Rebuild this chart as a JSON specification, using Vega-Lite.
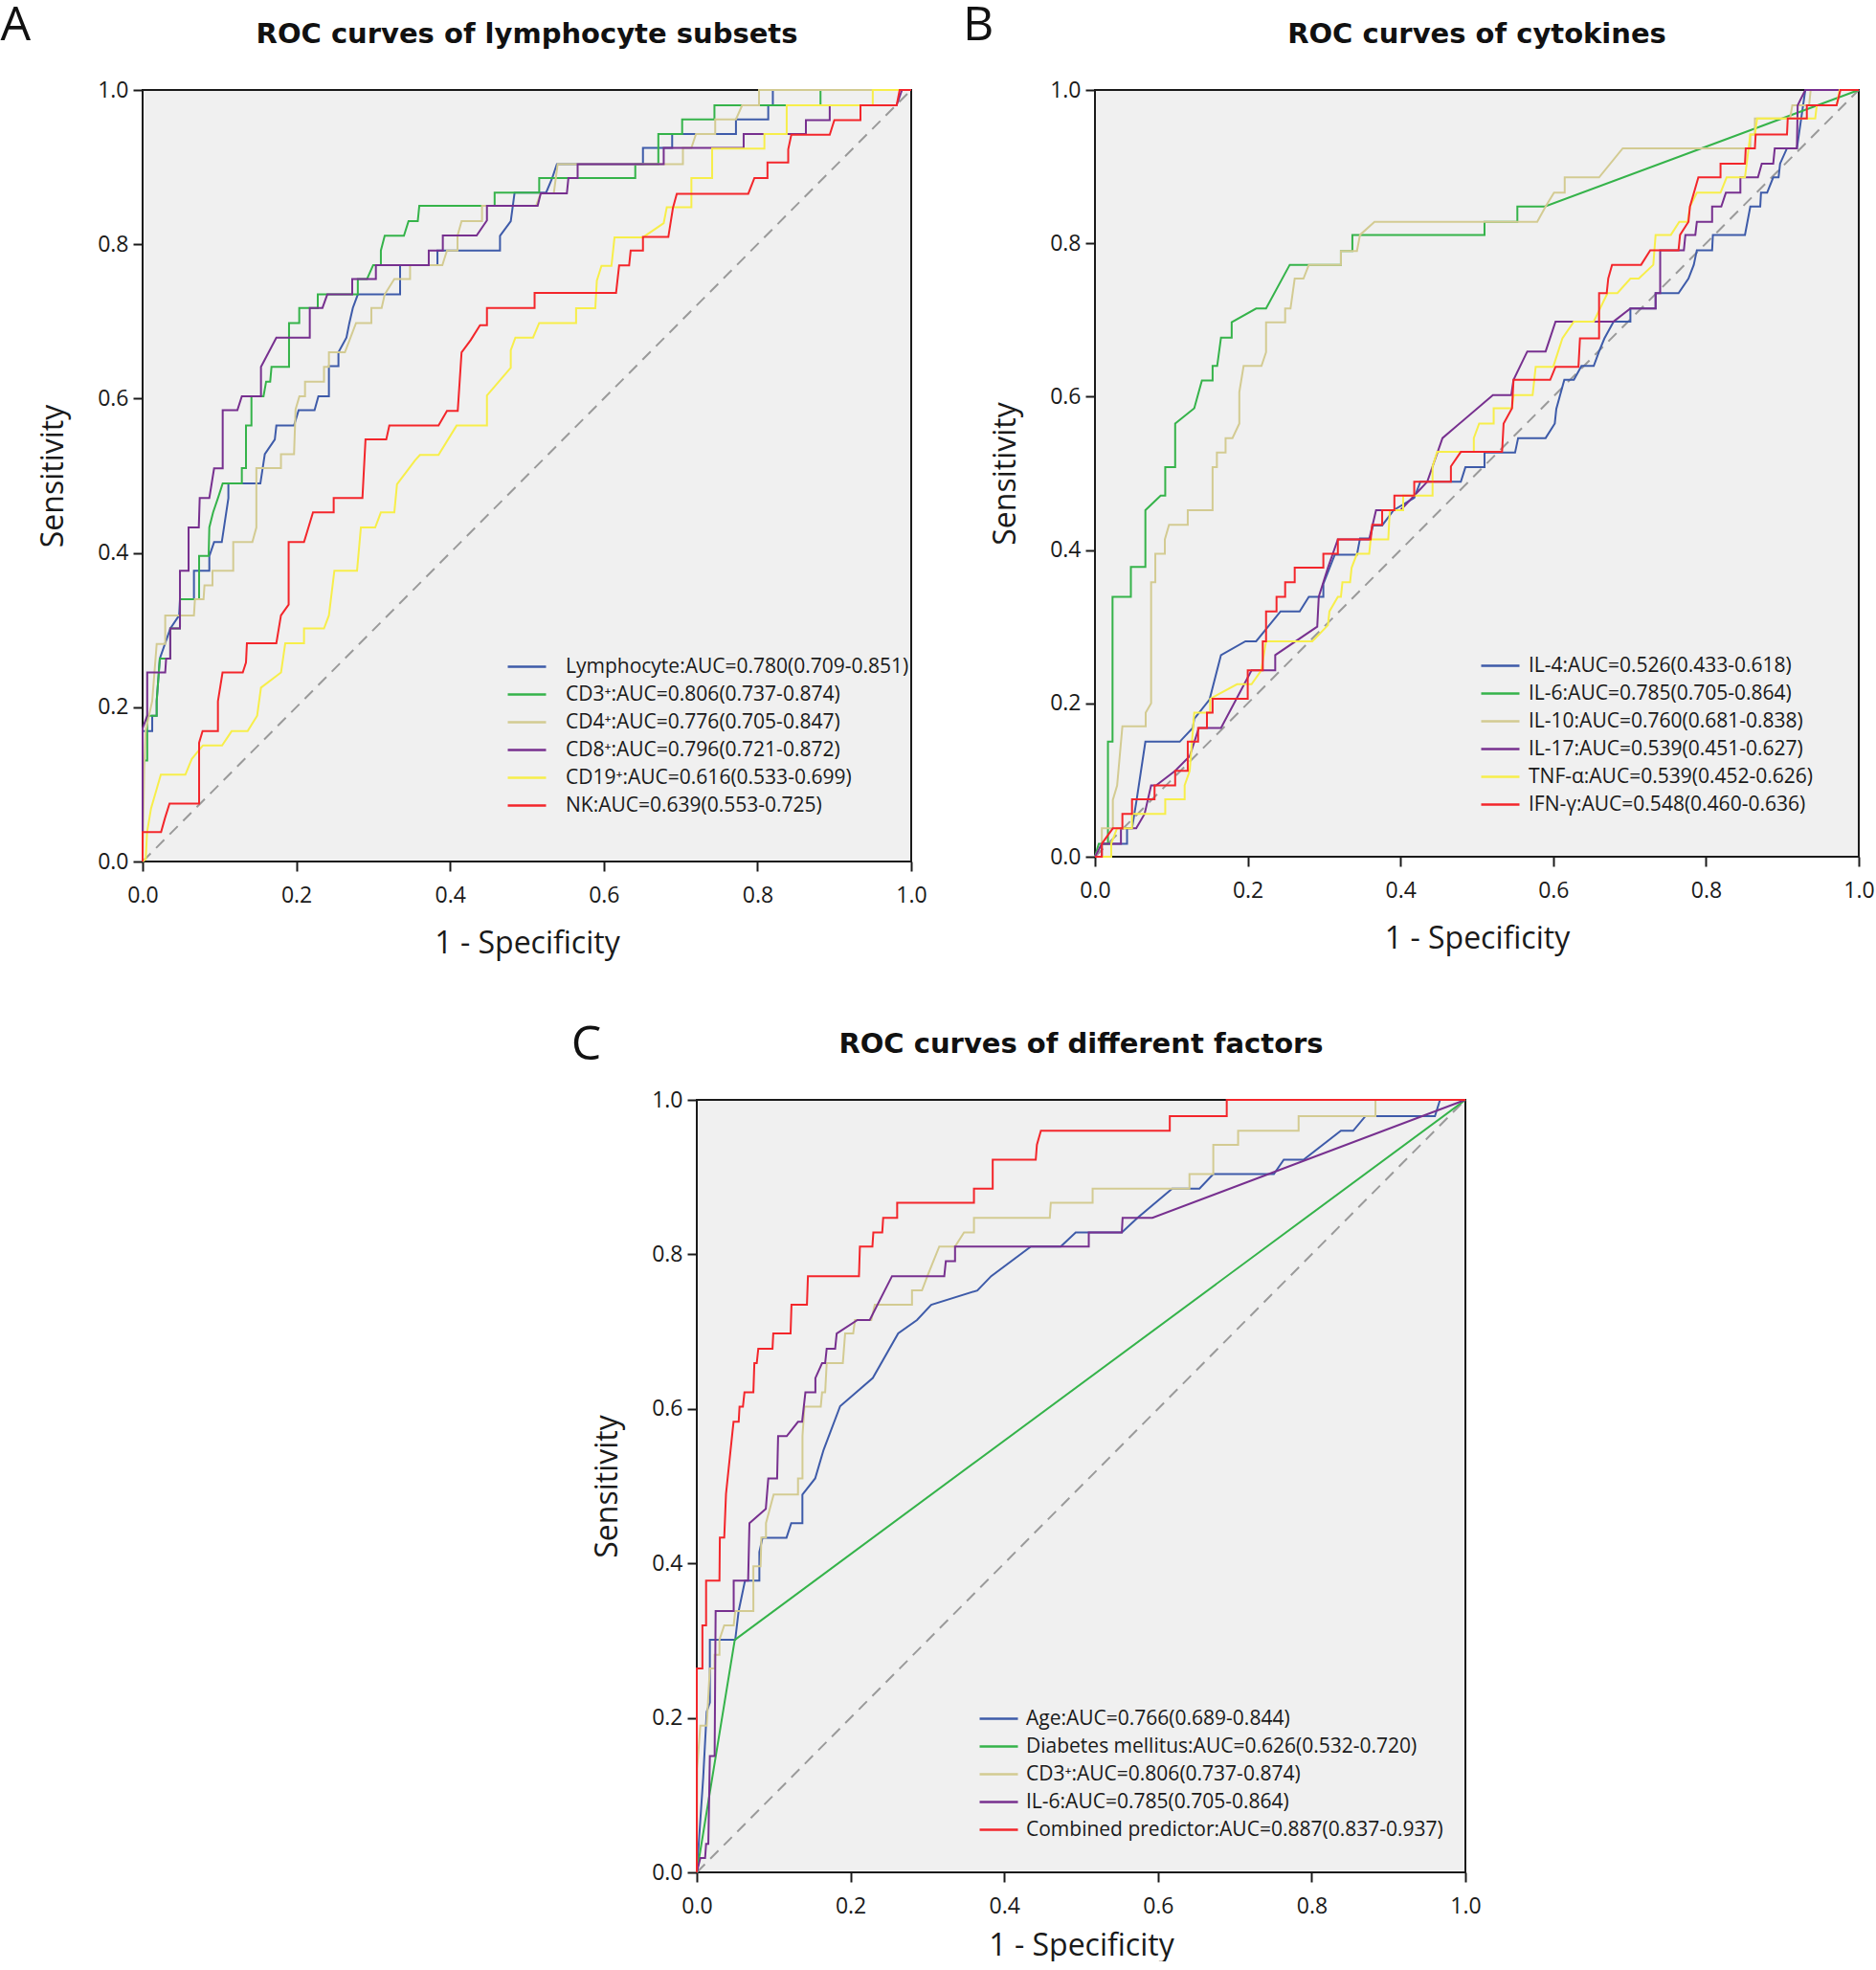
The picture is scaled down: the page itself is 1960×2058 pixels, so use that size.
{
"$schema": "https://vega.github.io/schema/vega-lite/v6.json",
"background": "white",
"padding": {"top": 2, "left": 0, "right": 0, "bottom": 0},
"config": {
"font": "Open Sans",
"view": {"fill": "#F0F0F0", "stroke": "#1a1a1a", "strokeWidth": 2},
"axis": {"domain": false, "grid": false, "tickColor": "#1a1a1a", "tickWidth": 2, "tickSize": 10, "labelFont": "Open Sans", "labelFontSize": 23, "labelColor": "#1a1a1a", "titleFont": "Open Sans", "titleFontSize": 32, "titleFontWeight": "normal", "titleColor": "#1a1a1a", "labelFlush": false, "labelOverlap": false},
"axisX": {"labelPadding": 14, "titlePadding": 23},
"axisY": {"labelPadding": 5, "titlePadding": 29},
"title": {"font": "DejaVu Sans", "fontSize": 29, "fontWeight": "bold", "color": "#111111", "offset": 32},
"legend": {"orient": "none", "padding": 0, "symbolType": "M-2,0H2", "symbolSize": 400, "symbolStrokeWidth": 2.5, "labelFont": "Open Sans", "labelFontSize": 21, "labelColor": "#1a1a1a", "labelLimit": 0, "rowPadding": 7}
},
"datasets": {
"A": [
{"k":"L","x":0,"y":0},{"k":"L","x":0,"y":0.169},{"k":"L","x":0.0125,"y":0.169},{"k":"L","x":0.0125,"y":0.189},{"k":"L","x":0.0183,"y":0.189},{"k":"L","x":0.0183,"y":0.208},{"k":"L","x":0.0224,"y":0.263},{"k":"L","x":0.036,"y":0.302},{"k":"L","x":0.0475,"y":0.319},{"k":"L","x":0.0486,"y":0.34},{"k":"L","x":0.0668,"y":0.34},{"k":"L","x":0.0668,"y":0.377},{"k":"L","x":0.0868,"y":0.377},{"k":"L","x":0.0868,"y":0.396},{"k":"L","x":0.093,"y":0.414},{"k":"L","x":0.103,"y":0.414},{"k":"L","x":0.1116,"y":0.471},{"k":"L","x":0.1116,"y":0.49},{"k":"L","x":0.1532,"y":0.49},{"k":"L","x":0.159,"y":0.528},{"k":"L","x":0.172,"y":0.547},{"k":"L","x":0.174,"y":0.565},{"k":"L","x":0.197,"y":0.565},{"k":"L","x":0.203,"y":0.585},{"k":"L","x":0.2237,"y":0.585},{"k":"L","x":0.2287,"y":0.603},{"k":"L","x":0.2424,"y":0.603},{"k":"L","x":0.2424,"y":0.642},{"k":"L","x":0.2548,"y":0.642},{"k":"L","x":0.2548,"y":0.66},{"k":"L","x":0.2652,"y":0.679},{"k":"L","x":0.269,"y":0.698},{"k":"L","x":0.2735,"y":0.7175},{"k":"L","x":0.28,"y":0.735},{"k":"L","x":0.335,"y":0.735},{"k":"L","x":0.335,"y":0.773},{"k":"L","x":0.3836,"y":0.773},{"k":"L","x":0.3836,"y":0.792},{"k":"L","x":0.465,"y":0.792},{"k":"L","x":0.465,"y":0.811},{"k":"L","x":0.479,"y":0.83},{"k":"L","x":0.484,"y":0.867},{"k":"L","x":0.525,"y":0.867},{"k":"L","x":0.533,"y":0.886},{"k":"L","x":0.539,"y":0.904},{"k":"L","x":0.651,"y":0.904},{"k":"L","x":0.651,"y":0.925},{"k":"L","x":0.689,"y":0.925},{"k":"L","x":0.689,"y":0.943},{"k":"L","x":0.772,"y":0.943},{"k":"L","x":0.772,"y":0.962},{"k":"L","x":0.814,"y":0.962},{"k":"L","x":0.814,"y":0.98},{"k":"L","x":0.82,"y":0.98},{"k":"L","x":0.82,"y":1},{"k":"L","x":1,"y":1},
{"k":"CD3","x":0,"y":0},{"k":"CD3","x":0,"y":0.131},{"k":"CD3","x":0.006,"y":0.131},{"k":"CD3","x":0.006,"y":0.189},{"k":"CD3","x":0.0183,"y":0.189},{"k":"CD3","x":0.0183,"y":0.208},{"k":"CD3","x":0.0224,"y":0.263},{"k":"CD3","x":0.036,"y":0.263},{"k":"CD3","x":0.036,"y":0.302},{"k":"CD3","x":0.0486,"y":0.302},{"k":"CD3","x":0.0486,"y":0.34},{"k":"CD3","x":0.0735,"y":0.34},{"k":"CD3","x":0.0735,"y":0.396},{"k":"CD3","x":0.0859,"y":0.396},{"k":"CD3","x":0.0868,"y":0.433},{"k":"CD3","x":0.0917,"y":0.4525},{"k":"CD3","x":0.098,"y":0.471},{"k":"CD3","x":0.1042,"y":0.49},{"k":"CD3","x":0.1291,"y":0.49},{"k":"CD3","x":0.1291,"y":0.51},{"k":"CD3","x":0.1345,"y":0.51},{"k":"CD3","x":0.1345,"y":0.565},{"k":"CD3","x":0.1416,"y":0.565},{"k":"CD3","x":0.1416,"y":0.603},{"k":"CD3","x":0.1573,"y":0.603},{"k":"CD3","x":0.1607,"y":0.622},{"k":"CD3","x":0.166,"y":0.622},{"k":"CD3","x":0.1677,"y":0.641},{"k":"CD3","x":0.1905,"y":0.641},{"k":"CD3","x":0.1905,"y":0.698},{"k":"CD3","x":0.2038,"y":0.698},{"k":"CD3","x":0.2038,"y":0.7175},{"k":"CD3","x":0.2279,"y":0.7175},{"k":"CD3","x":0.2279,"y":0.735},{"k":"CD3","x":0.28,"y":0.735},{"k":"CD3","x":0.28,"y":0.755},{"k":"CD3","x":0.292,"y":0.755},{"k":"CD3","x":0.3,"y":0.773},{"k":"CD3","x":0.31,"y":0.773},{"k":"CD3","x":0.31,"y":0.792},{"k":"CD3","x":0.315,"y":0.811},{"k":"CD3","x":0.34,"y":0.811},{"k":"CD3","x":0.346,"y":0.83},{"k":"CD3","x":0.358,"y":0.83},{"k":"CD3","x":0.36,"y":0.85},{"k":"CD3","x":0.458,"y":0.85},{"k":"CD3","x":0.458,"y":0.867},{"k":"CD3","x":0.516,"y":0.867},{"k":"CD3","x":0.516,"y":0.886},{"k":"CD3","x":0.641,"y":0.886},{"k":"CD3","x":0.641,"y":0.904},{"k":"CD3","x":0.671,"y":0.904},{"k":"CD3","x":0.671,"y":0.943},{"k":"CD3","x":0.702,"y":0.943},{"k":"CD3","x":0.702,"y":0.962},{"k":"CD3","x":0.744,"y":0.962},{"k":"CD3","x":0.744,"y":0.98},{"k":"CD3","x":0.882,"y":0.98},{"k":"CD3","x":0.882,"y":1},{"k":"CD3","x":1,"y":1},
{"k":"CD4","x":0,"y":0},{"k":"CD4","x":0.002,"y":0.12},{"k":"CD4","x":0.004,"y":0.17},{"k":"CD4","x":0.0125,"y":0.208},{"k":"CD4","x":0.0183,"y":0.282},{"k":"CD4","x":0.0294,"y":0.282},{"k":"CD4","x":0.0294,"y":0.319},{"k":"CD4","x":0.0668,"y":0.319},{"k":"CD4","x":0.0681,"y":0.34},{"k":"CD4","x":0.0793,"y":0.34},{"k":"CD4","x":0.0805,"y":0.358},{"k":"CD4","x":0.0909,"y":0.358},{"k":"CD4","x":0.0909,"y":0.377},{"k":"CD4","x":0.1179,"y":0.377},{"k":"CD4","x":0.1179,"y":0.414},{"k":"CD4","x":0.1428,"y":0.414},{"k":"CD4","x":0.148,"y":0.433},{"k":"CD4","x":0.148,"y":0.51},{"k":"CD4","x":0.18,"y":0.51},{"k":"CD4","x":0.18,"y":0.528},{"k":"CD4","x":0.197,"y":0.528},{"k":"CD4","x":0.199,"y":0.586},{"k":"CD4","x":0.204,"y":0.603},{"k":"CD4","x":0.2113,"y":0.603},{"k":"CD4","x":0.2113,"y":0.622},{"k":"CD4","x":0.236,"y":0.622},{"k":"CD4","x":0.236,"y":0.641},{"k":"CD4","x":0.2424,"y":0.641},{"k":"CD4","x":0.2424,"y":0.66},{"k":"CD4","x":0.2632,"y":0.66},{"k":"CD4","x":0.2777,"y":0.698},{"k":"CD4","x":0.2976,"y":0.698},{"k":"CD4","x":0.2976,"y":0.7175},{"k":"CD4","x":0.311,"y":0.7175},{"k":"CD4","x":0.315,"y":0.735},{"k":"CD4","x":0.3275,"y":0.755},{"k":"CD4","x":0.348,"y":0.755},{"k":"CD4","x":0.348,"y":0.773},{"k":"CD4","x":0.39,"y":0.773},{"k":"CD4","x":0.396,"y":0.792},{"k":"CD4","x":0.4097,"y":0.792},{"k":"CD4","x":0.4097,"y":0.811},{"k":"CD4","x":0.415,"y":0.83},{"k":"CD4","x":0.4416,"y":0.83},{"k":"CD4","x":0.4416,"y":0.85},{"k":"CD4","x":0.512,"y":0.85},{"k":"CD4","x":0.518,"y":0.866},{"k":"CD4","x":0.535,"y":0.866},{"k":"CD4","x":0.54,"y":0.904},{"k":"CD4","x":0.703,"y":0.904},{"k":"CD4","x":0.703,"y":0.925},{"k":"CD4","x":0.714,"y":0.925},{"k":"CD4","x":0.72,"y":0.943},{"k":"CD4","x":0.745,"y":0.943},{"k":"CD4","x":0.745,"y":0.962},{"k":"CD4","x":0.772,"y":0.962},{"k":"CD4","x":0.78,"y":0.98},{"k":"CD4","x":0.802,"y":0.98},{"k":"CD4","x":0.802,"y":1},{"k":"CD4","x":1,"y":1},
{"k":"CD8","x":0,"y":0},{"k":"CD8","x":0,"y":0.1725},{"k":"CD8","x":0.006,"y":0.189},{"k":"CD8","x":0.006,"y":0.245},{"k":"CD8","x":0.0294,"y":0.245},{"k":"CD8","x":0.0306,"y":0.263},{"k":"CD8","x":0.036,"y":0.263},{"k":"CD8","x":0.036,"y":0.302},{"k":"CD8","x":0.0486,"y":0.302},{"k":"CD8","x":0.0486,"y":0.377},{"k":"CD8","x":0.0598,"y":0.377},{"k":"CD8","x":0.0598,"y":0.433},{"k":"CD8","x":0.0731,"y":0.433},{"k":"CD8","x":0.0743,"y":0.471},{"k":"CD8","x":0.0868,"y":0.471},{"k":"CD8","x":0.093,"y":0.5095},{"k":"CD8","x":0.1042,"y":0.5095},{"k":"CD8","x":0.1042,"y":0.585},{"k":"CD8","x":0.1233,"y":0.585},{"k":"CD8","x":0.1291,"y":0.603},{"k":"CD8","x":0.154,"y":0.603},{"k":"CD8","x":0.154,"y":0.641},{"k":"CD8","x":0.174,"y":0.679},{"k":"CD8","x":0.2175,"y":0.679},{"k":"CD8","x":0.2175,"y":0.7175},{"k":"CD8","x":0.234,"y":0.7175},{"k":"CD8","x":0.2403,"y":0.735},{"k":"CD8","x":0.2727,"y":0.735},{"k":"CD8","x":0.2727,"y":0.755},{"k":"CD8","x":0.3035,"y":0.755},{"k":"CD8","x":0.3035,"y":0.773},{"k":"CD8","x":0.3723,"y":0.773},{"k":"CD8","x":0.3723,"y":0.792},{"k":"CD8","x":0.3906,"y":0.792},{"k":"CD8","x":0.3906,"y":0.8114},{"k":"CD8","x":0.4346,"y":0.8114},{"k":"CD8","x":0.448,"y":0.831},{"k":"CD8","x":0.448,"y":0.85},{"k":"CD8","x":0.514,"y":0.85},{"k":"CD8","x":0.518,"y":0.866},{"k":"CD8","x":0.552,"y":0.866},{"k":"CD8","x":0.554,"y":0.886},{"k":"CD8","x":0.566,"y":0.886},{"k":"CD8","x":0.566,"y":0.904},{"k":"CD8","x":0.678,"y":0.904},{"k":"CD8","x":0.678,"y":0.925},{"k":"CD8","x":0.782,"y":0.925},{"k":"CD8","x":0.782,"y":0.943},{"k":"CD8","x":0.863,"y":0.943},{"k":"CD8","x":0.863,"y":0.961},{"k":"CD8","x":0.894,"y":0.961},{"k":"CD8","x":0.894,"y":0.98},{"k":"CD8","x":0.981,"y":0.98},{"k":"CD8","x":0.988,"y":1},{"k":"CD8","x":1,"y":1},
{"k":"CD19","x":0,"y":0},{"k":"CD19","x":0.004,"y":0.003},{"k":"CD19","x":0.0058,"y":0.038},{"k":"CD19","x":0.011,"y":0.069},{"k":"CD19","x":0.0183,"y":0.094},{"k":"CD19","x":0.0237,"y":0.1125},{"k":"CD19","x":0.0556,"y":0.1125},{"k":"CD19","x":0.064,"y":0.133},{"k":"CD19","x":0.0785,"y":0.1505},{"k":"CD19","x":0.1034,"y":0.1505},{"k":"CD19","x":0.1158,"y":0.1689},{"k":"CD19","x":0.1366,"y":0.1689},{"k":"CD19","x":0.149,"y":0.189},{"k":"CD19","x":0.154,"y":0.2254},{"k":"CD19","x":0.1801,"y":0.245},{"k":"CD19","x":0.1856,"y":0.283},{"k":"CD19","x":0.21,"y":0.283},{"k":"CD19","x":0.21,"y":0.302},{"k":"CD19","x":0.236,"y":0.302},{"k":"CD19","x":0.2424,"y":0.319},{"k":"CD19","x":0.2495,"y":0.377},{"k":"CD19","x":0.279,"y":0.377},{"k":"CD19","x":0.284,"y":0.433},{"k":"CD19","x":0.3026,"y":0.433},{"k":"CD19","x":0.31,"y":0.4525},{"k":"CD19","x":0.3275,"y":0.4525},{"k":"CD19","x":0.331,"y":0.489},{"k":"CD19","x":0.3545,"y":0.52},{"k":"CD19","x":0.3608,"y":0.527},{"k":"CD19","x":0.385,"y":0.527},{"k":"CD19","x":0.4085,"y":0.565},{"k":"CD19","x":0.448,"y":0.565},{"k":"CD19","x":0.448,"y":0.604},{"k":"CD19","x":0.479,"y":0.64},{"k":"CD19","x":0.479,"y":0.6625},{"k":"CD19","x":0.485,"y":0.679},{"k":"CD19","x":0.508,"y":0.679},{"k":"CD19","x":0.516,"y":0.698},{"k":"CD19","x":0.564,"y":0.698},{"k":"CD19","x":0.564,"y":0.717},{"k":"CD19","x":0.589,"y":0.717},{"k":"CD19","x":0.591,"y":0.753},{"k":"CD19","x":0.597,"y":0.772},{"k":"CD19","x":0.61,"y":0.772},{"k":"CD19","x":0.614,"y":0.809},{"k":"CD19","x":0.651,"y":0.809},{"k":"CD19","x":0.678,"y":0.8275},{"k":"CD19","x":0.682,"y":0.848},{"k":"CD19","x":0.714,"y":0.848},{"k":"CD19","x":0.714,"y":0.886},{"k":"CD19","x":0.741,"y":0.886},{"k":"CD19","x":0.741,"y":0.924},{"k":"CD19","x":0.809,"y":0.924},{"k":"CD19","x":0.809,"y":0.943},{"k":"CD19","x":0.838,"y":0.943},{"k":"CD19","x":0.838,"y":0.98},{"k":"CD19","x":0.95,"y":0.98},{"k":"CD19","x":0.95,"y":1},{"k":"CD19","x":1,"y":1},
{"k":"NK","x":0,"y":0},{"k":"NK","x":0,"y":0.038},{"k":"NK","x":0.024,"y":0.038},{"k":"NK","x":0.029,"y":0.056},{"k":"NK","x":0.035,"y":0.075},{"k":"NK","x":0.0735,"y":0.075},{"k":"NK","x":0.0735,"y":0.154},{"k":"NK","x":0.078,"y":0.169},{"k":"NK","x":0.098,"y":0.169},{"k":"NK","x":0.098,"y":0.2076},{"k":"NK","x":0.104,"y":0.245},{"k":"NK","x":0.1303,"y":0.245},{"k":"NK","x":0.1345,"y":0.258},{"k":"NK","x":0.1357,"y":0.283},{"k":"NK","x":0.174,"y":0.283},{"k":"NK","x":0.18,"y":0.319},{"k":"NK","x":0.19,"y":0.333},{"k":"NK","x":0.19,"y":0.414},{"k":"NK","x":0.21,"y":0.414},{"k":"NK","x":0.2217,"y":0.4525},{"k":"NK","x":0.2486,"y":0.4525},{"k":"NK","x":0.2486,"y":0.471},{"k":"NK","x":0.286,"y":0.471},{"k":"NK","x":0.29,"y":0.547},{"k":"NK","x":0.317,"y":0.547},{"k":"NK","x":0.321,"y":0.565},{"k":"NK","x":0.385,"y":0.565},{"k":"NK","x":0.396,"y":0.584},{"k":"NK","x":0.41,"y":0.584},{"k":"NK","x":0.415,"y":0.66},{"k":"NK","x":0.427,"y":0.676},{"k":"NK","x":0.439,"y":0.695},{"k":"NK","x":0.448,"y":0.695},{"k":"NK","x":0.448,"y":0.7175},{"k":"NK","x":0.51,"y":0.7175},{"k":"NK","x":0.51,"y":0.737},{"k":"NK","x":0.616,"y":0.737},{"k":"NK","x":0.62,"y":0.7725},{"k":"NK","x":0.633,"y":0.7725},{"k":"NK","x":0.635,"y":0.792},{"k":"NK","x":0.651,"y":0.792},{"k":"NK","x":0.651,"y":0.8095},{"k":"NK","x":0.684,"y":0.8095},{"k":"NK","x":0.69,"y":0.847},{"k":"NK","x":0.695,"y":0.8655},{"k":"NK","x":0.788,"y":0.8655},{"k":"NK","x":0.796,"y":0.886},{"k":"NK","x":0.813,"y":0.886},{"k":"NK","x":0.813,"y":0.906},{"k":"NK","x":0.84,"y":0.906},{"k":"NK","x":0.84,"y":0.923},{"k":"NK","x":0.844,"y":0.942},{"k":"NK","x":0.894,"y":0.942},{"k":"NK","x":0.9,"y":0.961},{"k":"NK","x":0.934,"y":0.961},{"k":"NK","x":0.934,"y":0.98},{"k":"NK","x":0.981,"y":0.98},{"k":"NK","x":0.985,"y":1},{"k":"NK","x":1,"y":1}
],
"B": [
{"k":"IL4","x":0,"y":0},{"k":"IL4","x":0.009,"y":0},{"k":"IL4","x":0.009,"y":0.017},{"k":"IL4","x":0.042,"y":0.017},{"k":"IL4","x":0.042,"y":0.037},{"k":"IL4","x":0.0485,"y":0.037},{"k":"IL4","x":0.0547,"y":0.075},{"k":"IL4","x":0.066,"y":0.15},{"k":"IL4","x":0.111,"y":0.15},{"k":"IL4","x":0.128,"y":0.168},{"k":"IL4","x":0.13,"y":0.18},{"k":"IL4","x":0.15,"y":0.205},{"k":"IL4","x":0.165,"y":0.263},{"k":"IL4","x":0.197,"y":0.281},{"k":"IL4","x":0.211,"y":0.281},{"k":"IL4","x":0.243,"y":0.32},{"k":"IL4","x":0.268,"y":0.32},{"k":"IL4","x":0.28,"y":0.339},{"k":"IL4","x":0.299,"y":0.339},{"k":"IL4","x":0.299,"y":0.356},{"k":"IL4","x":0.314,"y":0.394},{"k":"IL4","x":0.343,"y":0.394},{"k":"IL4","x":0.347,"y":0.415},{"k":"IL4","x":0.36,"y":0.415},{"k":"IL4","x":0.364,"y":0.432},{"k":"IL4","x":0.376,"y":0.432},{"k":"IL4","x":0.391,"y":0.452},{"k":"IL4","x":0.418,"y":0.468},{"k":"IL4","x":0.426,"y":0.489},{"k":"IL4","x":0.479,"y":0.489},{"k":"IL4","x":0.485,"y":0.508},{"k":"IL4","x":0.51,"y":0.508},{"k":"IL4","x":0.51,"y":0.527},{"k":"IL4","x":0.55,"y":0.527},{"k":"IL4","x":0.554,"y":0.546},{"k":"IL4","x":0.59,"y":0.546},{"k":"IL4","x":0.602,"y":0.565},{"k":"IL4","x":0.604,"y":0.584},{"k":"IL4","x":0.6145,"y":0.622},{"k":"IL4","x":0.627,"y":0.622},{"k":"IL4","x":0.637,"y":0.64},{"k":"IL4","x":0.653,"y":0.64},{"k":"IL4","x":0.66,"y":0.659},{"k":"IL4","x":0.667,"y":0.676},{"k":"IL4","x":0.679,"y":0.698},{"k":"IL4","x":0.701,"y":0.698},{"k":"IL4","x":0.701,"y":0.715},{"k":"IL4","x":0.734,"y":0.715},{"k":"IL4","x":0.734,"y":0.735},{"k":"IL4","x":0.764,"y":0.735},{"k":"IL4","x":0.777,"y":0.754},{"k":"IL4","x":0.784,"y":0.772},{"k":"IL4","x":0.788,"y":0.791},{"k":"IL4","x":0.808,"y":0.791},{"k":"IL4","x":0.809,"y":0.811},{"k":"IL4","x":0.851,"y":0.811},{"k":"IL4","x":0.858,"y":0.848},{"k":"IL4","x":0.871,"y":0.848},{"k":"IL4","x":0.872,"y":0.866},{"k":"IL4","x":0.88,"y":0.866},{"k":"IL4","x":0.888,"y":0.886},{"k":"IL4","x":0.895,"y":0.886},{"k":"IL4","x":0.897,"y":0.904},{"k":"IL4","x":0.906,"y":0.924},{"k":"IL4","x":0.919,"y":0.924},{"k":"IL4","x":0.93,"y":1},{"k":"IL4","x":1,"y":1},
{"k":"IL6","x":0,"y":0},{"k":"IL6","x":0.005,"y":0.017},{"k":"IL6","x":0.017,"y":0.017},{"k":"IL6","x":0.017,"y":0.15},{"k":"IL6","x":0.023,"y":0.15},{"k":"IL6","x":0.023,"y":0.339},{"k":"IL6","x":0.047,"y":0.339},{"k":"IL6","x":0.047,"y":0.378},{"k":"IL6","x":0.066,"y":0.378},{"k":"IL6","x":0.066,"y":0.452},{"k":"IL6","x":0.086,"y":0.471},{"k":"IL6","x":0.092,"y":0.471},{"k":"IL6","x":0.092,"y":0.508},{"k":"IL6","x":0.105,"y":0.508},{"k":"IL6","x":0.105,"y":0.565},{"k":"IL6","x":0.13,"y":0.585},{"k":"IL6","x":0.14,"y":0.621},{"k":"IL6","x":0.154,"y":0.621},{"k":"IL6","x":0.154,"y":0.64},{"k":"IL6","x":0.16,"y":0.64},{"k":"IL6","x":0.165,"y":0.677},{"k":"IL6","x":0.179,"y":0.677},{"k":"IL6","x":0.179,"y":0.697},{"k":"IL6","x":0.211,"y":0.715},{"k":"IL6","x":0.224,"y":0.715},{"k":"IL6","x":0.255,"y":0.772},{"k":"IL6","x":0.322,"y":0.772},{"k":"IL6","x":0.322,"y":0.79},{"k":"IL6","x":0.337,"y":0.79},{"k":"IL6","x":0.337,"y":0.811},{"k":"IL6","x":0.51,"y":0.811},{"k":"IL6","x":0.51,"y":0.828},{"k":"IL6","x":0.553,"y":0.828},{"k":"IL6","x":0.553,"y":0.848},{"k":"IL6","x":0.589,"y":0.848},{"k":"IL6","x":1,"y":1},
{"k":"IL10","x":0,"y":0},{"k":"IL10","x":0.009,"y":0.017},{"k":"IL10","x":0.009,"y":0.037},{"k":"IL10","x":0.0234,"y":0.037},{"k":"IL10","x":0.0234,"y":0.074},{"k":"IL10","x":0.029,"y":0.093},{"k":"IL10","x":0.0359,"y":0.17},{"k":"IL10","x":0.0664,"y":0.17},{"k":"IL10","x":0.0664,"y":0.188},{"k":"IL10","x":0.0735,"y":0.2},{"k":"IL10","x":0.0735,"y":0.358},{"k":"IL10","x":0.079,"y":0.358},{"k":"IL10","x":0.079,"y":0.395},{"k":"IL10","x":0.0915,"y":0.395},{"k":"IL10","x":0.0915,"y":0.414},{"k":"IL10","x":0.097,"y":0.433},{"k":"IL10","x":0.1215,"y":0.433},{"k":"IL10","x":0.1215,"y":0.452},{"k":"IL10","x":0.154,"y":0.452},{"k":"IL10","x":0.154,"y":0.508},{"k":"IL10","x":0.1596,"y":0.508},{"k":"IL10","x":0.1596,"y":0.527},{"k":"IL10","x":0.171,"y":0.527},{"k":"IL10","x":0.171,"y":0.546},{"k":"IL10","x":0.18,"y":0.546},{"k":"IL10","x":0.189,"y":0.565},{"k":"IL10","x":0.189,"y":0.606},{"k":"IL10","x":0.1946,"y":0.64},{"k":"IL10","x":0.218,"y":0.64},{"k":"IL10","x":0.224,"y":0.658},{"k":"IL10","x":0.224,"y":0.697},{"k":"IL10","x":0.249,"y":0.697},{"k":"IL10","x":0.249,"y":0.715},{"k":"IL10","x":0.256,"y":0.715},{"k":"IL10","x":0.2615,"y":0.754},{"k":"IL10","x":0.273,"y":0.754},{"k":"IL10","x":0.28,"y":0.772},{"k":"IL10","x":0.322,"y":0.772},{"k":"IL10","x":0.322,"y":0.79},{"k":"IL10","x":0.343,"y":0.79},{"k":"IL10","x":0.347,"y":0.811},{"k":"IL10","x":0.366,"y":0.828},{"k":"IL10","x":0.579,"y":0.828},{"k":"IL10","x":0.59,"y":0.848},{"k":"IL10","x":0.601,"y":0.866},{"k":"IL10","x":0.615,"y":0.866},{"k":"IL10","x":0.615,"y":0.886},{"k":"IL10","x":0.66,"y":0.886},{"k":"IL10","x":0.691,"y":0.924},{"k":"IL10","x":0.858,"y":0.924},{"k":"IL10","x":0.858,"y":0.942},{"k":"IL10","x":0.864,"y":0.942},{"k":"IL10","x":0.864,"y":0.963},{"k":"IL10","x":0.91,"y":0.963},{"k":"IL10","x":0.913,"y":0.98},{"k":"IL10","x":0.935,"y":0.98},{"k":"IL10","x":0.937,"y":1},{"k":"IL10","x":1,"y":1},
{"k":"IL17","x":0,"y":0},{"k":"IL17","x":0.009,"y":0.017},{"k":"IL17","x":0.034,"y":0.017},{"k":"IL17","x":0.034,"y":0.037},{"k":"IL17","x":0.054,"y":0.037},{"k":"IL17","x":0.065,"y":0.056},{"k":"IL17","x":0.0735,"y":0.093},{"k":"IL17","x":0.08,"y":0.093},{"k":"IL17","x":0.105,"y":0.112},{"k":"IL17","x":0.124,"y":0.131},{"k":"IL17","x":0.136,"y":0.168},{"k":"IL17","x":0.165,"y":0.168},{"k":"IL17","x":0.205,"y":0.243},{"k":"IL17","x":0.236,"y":0.243},{"k":"IL17","x":0.236,"y":0.263},{"k":"IL17","x":0.291,"y":0.3},{"k":"IL17","x":0.293,"y":0.339},{"k":"IL17","x":0.305,"y":0.377},{"k":"IL17","x":0.318,"y":0.414},{"k":"IL17","x":0.359,"y":0.414},{"k":"IL17","x":0.368,"y":0.452},{"k":"IL17","x":0.4,"y":0.452},{"k":"IL17","x":0.435,"y":0.489},{"k":"IL17","x":0.455,"y":0.546},{"k":"IL17","x":0.521,"y":0.602},{"k":"IL17","x":0.545,"y":0.602},{"k":"IL17","x":0.548,"y":0.622},{"k":"IL17","x":0.566,"y":0.659},{"k":"IL17","x":0.59,"y":0.659},{"k":"IL17","x":0.603,"y":0.698},{"k":"IL17","x":0.679,"y":0.698},{"k":"IL17","x":0.701,"y":0.715},{"k":"IL17","x":0.734,"y":0.715},{"k":"IL17","x":0.734,"y":0.735},{"k":"IL17","x":0.74,"y":0.735},{"k":"IL17","x":0.74,"y":0.791},{"k":"IL17","x":0.771,"y":0.791},{"k":"IL17","x":0.773,"y":0.811},{"k":"IL17","x":0.786,"y":0.811},{"k":"IL17","x":0.788,"y":0.828},{"k":"IL17","x":0.808,"y":0.828},{"k":"IL17","x":0.808,"y":0.848},{"k":"IL17","x":0.82,"y":0.848},{"k":"IL17","x":0.826,"y":0.866},{"k":"IL17","x":0.845,"y":0.866},{"k":"IL17","x":0.845,"y":0.886},{"k":"IL17","x":0.868,"y":0.886},{"k":"IL17","x":0.873,"y":0.904},{"k":"IL17","x":0.888,"y":0.904},{"k":"IL17","x":0.89,"y":0.924},{"k":"IL17","x":0.919,"y":0.924},{"k":"IL17","x":0.92,"y":0.98},{"k":"IL17","x":0.93,"y":1},{"k":"IL17","x":1,"y":1},
{"k":"TNF","x":0,"y":0},{"k":"TNF","x":0.0213,"y":0},{"k":"TNF","x":0.0213,"y":0.017},{"k":"TNF","x":0.0288,"y":0.037},{"k":"TNF","x":0.0485,"y":0.037},{"k":"TNF","x":0.0485,"y":0.056},{"k":"TNF","x":0.092,"y":0.056},{"k":"TNF","x":0.092,"y":0.075},{"k":"TNF","x":0.1174,"y":0.075},{"k":"TNF","x":0.1174,"y":0.093},{"k":"TNF","x":0.124,"y":0.112},{"k":"TNF","x":0.13,"y":0.188},{"k":"TNF","x":0.1508,"y":0.188},{"k":"TNF","x":0.1508,"y":0.206},{"k":"TNF","x":0.186,"y":0.225},{"k":"TNF","x":0.205,"y":0.225},{"k":"TNF","x":0.2177,"y":0.243},{"k":"TNF","x":0.224,"y":0.281},{"k":"TNF","x":0.2845,"y":0.281},{"k":"TNF","x":0.305,"y":0.302},{"k":"TNF","x":0.307,"y":0.32},{"k":"TNF","x":0.318,"y":0.339},{"k":"TNF","x":0.322,"y":0.339},{"k":"TNF","x":0.324,"y":0.358},{"k":"TNF","x":0.334,"y":0.358},{"k":"TNF","x":0.336,"y":0.377},{"k":"TNF","x":0.343,"y":0.395},{"k":"TNF","x":0.359,"y":0.395},{"k":"TNF","x":0.361,"y":0.414},{"k":"TNF","x":0.384,"y":0.414},{"k":"TNF","x":0.386,"y":0.452},{"k":"TNF","x":0.4035,"y":0.452},{"k":"TNF","x":0.4035,"y":0.471},{"k":"TNF","x":0.442,"y":0.471},{"k":"TNF","x":0.442,"y":0.509},{"k":"TNF","x":0.448,"y":0.528},{"k":"TNF","x":0.496,"y":0.528},{"k":"TNF","x":0.496,"y":0.546},{"k":"TNF","x":0.503,"y":0.565},{"k":"TNF","x":0.522,"y":0.565},{"k":"TNF","x":0.522,"y":0.585},{"k":"TNF","x":0.546,"y":0.585},{"k":"TNF","x":0.548,"y":0.602},{"k":"TNF","x":0.573,"y":0.602},{"k":"TNF","x":0.577,"y":0.639},{"k":"TNF","x":0.6,"y":0.639},{"k":"TNF","x":0.612,"y":0.676},{"k":"TNF","x":0.627,"y":0.698},{"k":"TNF","x":0.653,"y":0.698},{"k":"TNF","x":0.671,"y":0.735},{"k":"TNF","x":0.684,"y":0.735},{"k":"TNF","x":0.701,"y":0.754},{"k":"TNF","x":0.712,"y":0.754},{"k":"TNF","x":0.731,"y":0.772},{"k":"TNF","x":0.734,"y":0.811},{"k":"TNF","x":0.754,"y":0.811},{"k":"TNF","x":0.765,"y":0.828},{"k":"TNF","x":0.776,"y":0.828},{"k":"TNF","x":0.779,"y":0.848},{"k":"TNF","x":0.788,"y":0.866},{"k":"TNF","x":0.819,"y":0.866},{"k":"TNF","x":0.827,"y":0.886},{"k":"TNF","x":0.851,"y":0.886},{"k":"TNF","x":0.858,"y":0.942},{"k":"TNF","x":0.864,"y":0.942},{"k":"TNF","x":0.867,"y":0.963},{"k":"TNF","x":0.943,"y":0.963},{"k":"TNF","x":0.945,"y":0.98},{"k":"TNF","x":0.971,"y":0.98},{"k":"TNF","x":0.975,"y":1},{"k":"TNF","x":1,"y":1},
{"k":"IFN","x":0,"y":0},{"k":"IFN","x":0.009,"y":0},{"k":"IFN","x":0.009,"y":0.017},{"k":"IFN","x":0.0234,"y":0.037},{"k":"IFN","x":0.0359,"y":0.037},{"k":"IFN","x":0.0359,"y":0.056},{"k":"IFN","x":0.0485,"y":0.056},{"k":"IFN","x":0.0485,"y":0.075},{"k":"IFN","x":0.078,"y":0.075},{"k":"IFN","x":0.078,"y":0.093},{"k":"IFN","x":0.105,"y":0.093},{"k":"IFN","x":0.105,"y":0.112},{"k":"IFN","x":0.1215,"y":0.112},{"k":"IFN","x":0.1215,"y":0.15},{"k":"IFN","x":0.135,"y":0.15},{"k":"IFN","x":0.135,"y":0.168},{"k":"IFN","x":0.1466,"y":0.168},{"k":"IFN","x":0.1466,"y":0.188},{"k":"IFN","x":0.154,"y":0.188},{"k":"IFN","x":0.154,"y":0.206},{"k":"IFN","x":0.2,"y":0.206},{"k":"IFN","x":0.2,"y":0.243},{"k":"IFN","x":0.2197,"y":0.243},{"k":"IFN","x":0.2197,"y":0.281},{"k":"IFN","x":0.224,"y":0.281},{"k":"IFN","x":0.224,"y":0.32},{"k":"IFN","x":0.2377,"y":0.32},{"k":"IFN","x":0.2377,"y":0.339},{"k":"IFN","x":0.249,"y":0.339},{"k":"IFN","x":0.249,"y":0.358},{"k":"IFN","x":0.2615,"y":0.358},{"k":"IFN","x":0.2615,"y":0.377},{"k":"IFN","x":0.299,"y":0.377},{"k":"IFN","x":0.299,"y":0.395},{"k":"IFN","x":0.318,"y":0.395},{"k":"IFN","x":0.318,"y":0.414},{"k":"IFN","x":0.361,"y":0.414},{"k":"IFN","x":0.363,"y":0.433},{"k":"IFN","x":0.376,"y":0.433},{"k":"IFN","x":0.376,"y":0.452},{"k":"IFN","x":0.392,"y":0.452},{"k":"IFN","x":0.392,"y":0.471},{"k":"IFN","x":0.418,"y":0.471},{"k":"IFN","x":0.418,"y":0.489},{"k":"IFN","x":0.466,"y":0.489},{"k":"IFN","x":0.466,"y":0.509},{"k":"IFN","x":0.479,"y":0.528},{"k":"IFN","x":0.533,"y":0.528},{"k":"IFN","x":0.535,"y":0.565},{"k":"IFN","x":0.546,"y":0.585},{"k":"IFN","x":0.548,"y":0.622},{"k":"IFN","x":0.596,"y":0.622},{"k":"IFN","x":0.603,"y":0.639},{"k":"IFN","x":0.633,"y":0.639},{"k":"IFN","x":0.635,"y":0.676},{"k":"IFN","x":0.66,"y":0.676},{"k":"IFN","x":0.66,"y":0.735},{"k":"IFN","x":0.67,"y":0.735},{"k":"IFN","x":0.672,"y":0.754},{"k":"IFN","x":0.677,"y":0.772},{"k":"IFN","x":0.715,"y":0.772},{"k":"IFN","x":0.727,"y":0.791},{"k":"IFN","x":0.764,"y":0.791},{"k":"IFN","x":0.766,"y":0.811},{"k":"IFN","x":0.777,"y":0.828},{"k":"IFN","x":0.779,"y":0.848},{"k":"IFN","x":0.79,"y":0.886},{"k":"IFN","x":0.819,"y":0.886},{"k":"IFN","x":0.819,"y":0.904},{"k":"IFN","x":0.851,"y":0.904},{"k":"IFN","x":0.852,"y":0.924},{"k":"IFN","x":0.864,"y":0.924},{"k":"IFN","x":0.865,"y":0.942},{"k":"IFN","x":0.906,"y":0.942},{"k":"IFN","x":0.907,"y":0.963},{"k":"IFN","x":0.932,"y":0.963},{"k":"IFN","x":0.932,"y":0.98},{"k":"IFN","x":0.971,"y":0.98},{"k":"IFN","x":0.976,"y":1},{"k":"IFN","x":1,"y":1}
],
"C": [
{"k":"Age","x":0,"y":0},{"k":"Age","x":0.0083,"y":0.122},{"k":"Age","x":0.0129,"y":0.208},{"k":"Age","x":0.017,"y":0.22},{"k":"Age","x":0.017,"y":0.301},{"k":"Age","x":0.05,"y":0.301},{"k":"Age","x":0.0544,"y":0.338},{"k":"Age","x":0.0627,"y":0.3775},{"k":"Age","x":0.0814,"y":0.3775},{"k":"Age","x":0.0814,"y":0.4146},{"k":"Age","x":0.0855,"y":0.4332},{"k":"Age","x":0.1167,"y":0.4332},{"k":"Age","x":0.1229,"y":0.4521},{"k":"Age","x":0.1374,"y":0.4521},{"k":"Age","x":0.1374,"y":0.489},{"k":"Age","x":0.154,"y":0.51},{"k":"Age","x":0.165,"y":0.547},{"k":"Age","x":0.1865,"y":0.6035},{"k":"Age","x":0.229,"y":0.64},{"k":"Age","x":0.262,"y":0.6976},{"k":"Age","x":0.2865,"y":0.715},{"k":"Age","x":0.305,"y":0.7347},{"k":"Age","x":0.365,"y":0.7533},{"k":"Age","x":0.383,"y":0.7718},{"k":"Age","x":0.4347,"y":0.8102},{"k":"Age","x":0.4735,"y":0.8102},{"k":"Age","x":0.493,"y":0.8285},{"k":"Age","x":0.553,"y":0.8285},{"k":"Age","x":0.5734,"y":0.8473},{"k":"Age","x":0.6185,"y":0.885},{"k":"Age","x":0.654,"y":0.885},{"k":"Age","x":0.672,"y":0.904},{"k":"Age","x":0.7508,"y":0.904},{"k":"Age","x":0.7637,"y":0.9225},{"k":"Age","x":0.7895,"y":0.9225},{"k":"Age","x":0.838,"y":0.96},{"k":"Age","x":0.854,"y":0.96},{"k":"Age","x":0.87,"y":0.979},{"k":"Age","x":0.9604,"y":0.979},{"k":"Age","x":0.967,"y":1},{"k":"Age","x":1,"y":1},
{"k":"DM","x":0,"y":0},{"k":"DM","x":0.0494,"y":0.301},{"k":"DM","x":1,"y":1},
{"k":"CD3","x":0,"y":0},{"k":"CD3","x":0.0004,"y":0.134},{"k":"CD3","x":0.0046,"y":0.19},{"k":"CD3","x":0.0129,"y":0.19},{"k":"CD3","x":0.017,"y":0.264},{"k":"CD3","x":0.0232,"y":0.264},{"k":"CD3","x":0.0232,"y":0.2817},{"k":"CD3","x":0.0295,"y":0.2817},{"k":"CD3","x":0.0295,"y":0.3011},{"k":"CD3","x":0.0357,"y":0.3197},{"k":"CD3","x":0.048,"y":0.3197},{"k":"CD3","x":0.05,"y":0.3383},{"k":"CD3","x":0.0736,"y":0.3383},{"k":"CD3","x":0.0736,"y":0.3963},{"k":"CD3","x":0.083,"y":0.3963},{"k":"CD3","x":0.084,"y":0.4335},{"k":"CD3","x":0.09,"y":0.4335},{"k":"CD3","x":0.09,"y":0.4521},{"k":"CD3","x":0.1,"y":0.4893},{"k":"CD3","x":0.1317,"y":0.4893},{"k":"CD3","x":0.1317,"y":0.5099},{"k":"CD3","x":0.1375,"y":0.5099},{"k":"CD3","x":0.1375,"y":0.5647},{"k":"CD3","x":0.14,"y":0.6027},{"k":"CD3","x":0.1613,"y":0.6027},{"k":"CD3","x":0.163,"y":0.6213},{"k":"CD3","x":0.167,"y":0.6213},{"k":"CD3","x":0.169,"y":0.6592},{"k":"CD3","x":0.19,"y":0.6592},{"k":"CD3","x":0.193,"y":0.6976},{"k":"CD3","x":0.2035,"y":0.6976},{"k":"CD3","x":0.2058,"y":0.715},{"k":"CD3","x":0.227,"y":0.715},{"k":"CD3","x":0.2316,"y":0.7347},{"k":"CD3","x":0.28,"y":0.7347},{"k":"CD3","x":0.28,"y":0.7533},{"k":"CD3","x":0.293,"y":0.7533},{"k":"CD3","x":0.3,"y":0.7718},{"k":"CD3","x":0.3155,"y":0.8102},{"k":"CD3","x":0.336,"y":0.8102},{"k":"CD3","x":0.3477,"y":0.8285},{"k":"CD3","x":0.3606,"y":0.8285},{"k":"CD3","x":0.3606,"y":0.8473},{"k":"CD3","x":0.4593,"y":0.8473},{"k":"CD3","x":0.4606,"y":0.8668},{"k":"CD3","x":0.515,"y":0.8668},{"k":"CD3","x":0.515,"y":0.885},{"k":"CD3","x":0.641,"y":0.885},{"k":"CD3","x":0.641,"y":0.904},{"k":"CD3","x":0.672,"y":0.904},{"k":"CD3","x":0.672,"y":0.9418},{"k":"CD3","x":0.7043,"y":0.9418},{"k":"CD3","x":0.7043,"y":0.96},{"k":"CD3","x":0.783,"y":0.96},{"k":"CD3","x":0.783,"y":0.979},{"k":"CD3","x":0.883,"y":0.979},{"k":"CD3","x":0.883,"y":1},{"k":"CD3","x":1,"y":1},
{"k":"IL6","x":0,"y":0},{"k":"IL6","x":0.0046,"y":0.0185},{"k":"IL6","x":0.0108,"y":0.0185},{"k":"IL6","x":0.0121,"y":0.037},{"k":"IL6","x":0.015,"y":0.037},{"k":"IL6","x":0.017,"y":0.1506},{"k":"IL6","x":0.0232,"y":0.1506},{"k":"IL6","x":0.0245,"y":0.3383},{"k":"IL6","x":0.048,"y":0.3383},{"k":"IL6","x":0.048,"y":0.3775},{"k":"IL6","x":0.0668,"y":0.3775},{"k":"IL6","x":0.0685,"y":0.4521},{"k":"IL6","x":0.0898,"y":0.4707},{"k":"IL6","x":0.093,"y":0.5099},{"k":"IL6","x":0.1045,"y":0.5099},{"k":"IL6","x":0.1058,"y":0.5647},{"k":"IL6","x":0.117,"y":0.5647},{"k":"IL6","x":0.1317,"y":0.5833},{"k":"IL6","x":0.137,"y":0.5833},{"k":"IL6","x":0.1413,"y":0.6213},{"k":"IL6","x":0.1543,"y":0.6213},{"k":"IL6","x":0.1543,"y":0.6398},{"k":"IL6","x":0.163,"y":0.6592},{"k":"IL6","x":0.167,"y":0.6592},{"k":"IL6","x":0.169,"y":0.6778},{"k":"IL6","x":0.18,"y":0.6778},{"k":"IL6","x":0.182,"y":0.6976},{"k":"IL6","x":0.209,"y":0.715},{"k":"IL6","x":0.225,"y":0.715},{"k":"IL6","x":0.254,"y":0.7718},{"k":"IL6","x":0.322,"y":0.7718},{"k":"IL6","x":0.324,"y":0.7913},{"k":"IL6","x":0.336,"y":0.7913},{"k":"IL6","x":0.336,"y":0.8102},{"k":"IL6","x":0.51,"y":0.8102},{"k":"IL6","x":0.51,"y":0.8285},{"k":"IL6","x":0.553,"y":0.8285},{"k":"IL6","x":0.554,"y":0.8473},{"k":"IL6","x":0.5928,"y":0.8473},{"k":"IL6","x":1,"y":1},
{"k":"Comb","x":0,"y":0},{"k":"Comb","x":0,"y":0.264},{"k":"Comb","x":0.0073,"y":0.264},{"k":"Comb","x":0.0073,"y":0.3197},{"k":"Comb","x":0.0121,"y":0.3197},{"k":"Comb","x":0.0121,"y":0.3775},{"k":"Comb","x":0.0295,"y":0.3775},{"k":"Comb","x":0.03,"y":0.4335},{"k":"Comb","x":0.0357,"y":0.4335},{"k":"Comb","x":0.038,"y":0.49},{"k":"Comb","x":0.0478,"y":0.5833},{"k":"Comb","x":0.0545,"y":0.5833},{"k":"Comb","x":0.0556,"y":0.6027},{"k":"Comb","x":0.06,"y":0.6027},{"k":"Comb","x":0.062,"y":0.6213},{"k":"Comb","x":0.0736,"y":0.6213},{"k":"Comb","x":0.0749,"y":0.6592},{"k":"Comb","x":0.078,"y":0.6592},{"k":"Comb","x":0.08,"y":0.6778},{"k":"Comb","x":0.0985,"y":0.6778},{"k":"Comb","x":0.0995,"y":0.6976},{"k":"Comb","x":0.122,"y":0.6976},{"k":"Comb","x":0.1232,"y":0.7347},{"k":"Comb","x":0.1433,"y":0.7347},{"k":"Comb","x":0.1446,"y":0.7718},{"k":"Comb","x":0.211,"y":0.7718},{"k":"Comb","x":0.2122,"y":0.8102},{"k":"Comb","x":0.2285,"y":0.8102},{"k":"Comb","x":0.2297,"y":0.8285},{"k":"Comb","x":0.2413,"y":0.8285},{"k":"Comb","x":0.2425,"y":0.8473},{"k":"Comb","x":0.2607,"y":0.8473},{"k":"Comb","x":0.2607,"y":0.8668},{"k":"Comb","x":0.3606,"y":0.8668},{"k":"Comb","x":0.3606,"y":0.885},{"k":"Comb","x":0.385,"y":0.885},{"k":"Comb","x":0.385,"y":0.9225},{"k":"Comb","x":0.441,"y":0.9225},{"k":"Comb","x":0.4425,"y":0.9418},{"k":"Comb","x":0.4477,"y":0.96},{"k":"Comb","x":0.6154,"y":0.96},{"k":"Comb","x":0.6154,"y":0.979},{"k":"Comb","x":0.6895,"y":0.979},{"k":"Comb","x":0.6895,"y":1},{"k":"Comb","x":1,"y":1}
]
},
"resolve": {"scale": {"color": "independent"}, "legend": {"color": "independent"}},
"spacing": 65,
"vconcat": [
{
"resolve": {"scale": {"color": "independent"}, "legend": {"color": "independent"}},
"spacing": 36,
"hconcat": [
{
"title": {"text": "A", "orient": "left", "anchor": "end", "angle": 0, "align": "right", "baseline": "top", "font": "Open Sans", "fontSize": 50, "fontWeight": "normal", "color": "#111111", "offset": -25, "dy": -19},
"vconcat": [{
"width": 803, "height": 806,
"title": {"text": "ROC curves of lymphocyte subsets"},
"data": {"name": "A"},
"encoding": {
"x": {"field": "x", "type": "quantitative", "scale": {"domain": [0, 1], "nice": false}, "axis": {"title": "1 - Specificity", "values": [0, 0.2, 0.4, 0.6, 0.8, 1], "format": ".1f"}},
"y": {"field": "y", "type": "quantitative", "scale": {"domain": [0, 1], "nice": false}, "axis": {"title": "Sensitivity", "values": [0, 0.2, 0.4, 0.6, 0.8, 1], "format": ".1f"}}
},
"layer": [
{"data": {"values": [{"x": 0, "y": 0}, {"x": 1, "y": 1}]}, "mark": {"type": "line", "color": "#9a9a9a", "strokeDash": [12, 8], "strokeWidth": 2}, "encoding": {}},
{"mark": {"type": "line", "strokeWidth": 2}, "encoding": {
"color": {"field": "k", "type": "nominal", "scale": {"domain": ["L", "CD3", "CD4", "CD8", "CD19", "NK"], "range": ["#3E5BA9", "#35B34A", "#D3CB92", "#77308F", "#F7EE4A", "#F3262B"]}, "legend": {"title": null, "legendX": 390, "legendY": 591, "labelOffset": 29, "labelExpr": "datum.label == 'L' ? 'Lymphocyte:AUC=0.780(0.709-0.851)' : datum.label == 'CD3' ? 'CD3⁺:AUC=0.806(0.737-0.874)' : datum.label == 'CD4' ? 'CD4⁺:AUC=0.776(0.705-0.847)' : datum.label == 'CD8' ? 'CD8⁺:AUC=0.796(0.721-0.872)' : datum.label == 'CD19' ? 'CD19⁺:AUC=0.616(0.533-0.699)' : 'NK:AUC=0.639(0.553-0.725)'"}},
"order": {"value": null}}}
]
}]
},
{
"title": {"text": "B", "orient": "left", "anchor": "end", "angle": 0, "align": "right", "baseline": "top", "font": "Open Sans", "fontSize": 50, "fontWeight": "normal", "color": "#111111", "offset": -37, "dy": -19},
"vconcat": [{
"width": 798, "height": 801,
"title": {"text": "ROC curves of cytokines"},
"data": {"name": "B"},
"encoding": {
"x": {"field": "x", "type": "quantitative", "scale": {"domain": [0, 1], "nice": false}, "axis": {"title": "1 - Specificity", "values": [0, 0.2, 0.4, 0.6, 0.8, 1], "format": ".1f"}},
"y": {"field": "y", "type": "quantitative", "scale": {"domain": [0, 1], "nice": false}, "axis": {"title": "Sensitivity", "values": [0, 0.2, 0.4, 0.6, 0.8, 1], "format": ".1f"}}
},
"layer": [
{"data": {"values": [{"x": 0, "y": 0}, {"x": 1, "y": 1}]}, "mark": {"type": "line", "color": "#9a9a9a", "strokeDash": [12, 8], "strokeWidth": 2}, "encoding": {}},
{"mark": {"type": "line", "strokeWidth": 2}, "encoding": {
"color": {"field": "k", "type": "nominal", "scale": {"domain": ["IL4", "IL6", "IL10", "IL17", "TNF", "IFN"], "range": ["#3E5BA9", "#35B34A", "#D3CB92", "#77308F", "#F7EE4A", "#F3262B"]}, "legend": {"title": null, "legendX": 412, "legendY": 590, "labelOffset": 18, "labelExpr": "datum.label == 'IL4' ? 'IL-4:AUC=0.526(0.433-0.618)' : datum.label == 'IL6' ? 'IL-6:AUC=0.785(0.705-0.864)' : datum.label == 'IL10' ? 'IL-10:AUC=0.760(0.681-0.838)' : datum.label == 'IL17' ? 'IL-17:AUC=0.539(0.451-0.627)' : datum.label == 'TNF' ? 'TNF-α:AUC=0.539(0.452-0.626)' : 'IFN-γ:AUC=0.548(0.460-0.636)'"}},
"order": {"value": null}}}
]
}]
}
]
},
{
"resolve": {"scale": {"color": "independent"}, "legend": {"color": "independent"}},
"spacing": 0,
"hconcat": [
{"width": 447, "height": 10, "data": {"values": [{"a": 1}]}, "mark": {"type": "point", "opacity": 0}, "view": {"stroke": null, "fill": null}},
{
"title": {"text": "C", "orient": "left", "anchor": "end", "angle": 0, "align": "right", "baseline": "top", "font": "Open Sans", "fontSize": 50, "fontWeight": "normal", "color": "#111111", "offset": -42, "dy": -9},
"vconcat": [{
"width": 803, "height": 807,
"title": {"text": "ROC curves of different factors"},
"data": {"name": "C"},
"encoding": {
"x": {"field": "x", "type": "quantitative", "scale": {"domain": [0, 1], "nice": false}, "axis": {"title": "1 - Specificity", "titlePadding": 14, "values": [0, 0.2, 0.4, 0.6, 0.8, 1], "format": ".1f"}},
"y": {"field": "y", "type": "quantitative", "scale": {"domain": [0, 1], "nice": false}, "axis": {"title": "Sensitivity", "values": [0, 0.2, 0.4, 0.6, 0.8, 1], "format": ".1f"}}
},
"layer": [
{"data": {"values": [{"x": 0, "y": 0}, {"x": 1, "y": 1}]}, "mark": {"type": "line", "color": "#9a9a9a", "strokeDash": [12, 8], "strokeWidth": 2}, "encoding": {}},
{"mark": {"type": "line", "strokeWidth": 2}, "encoding": {
"color": {"field": "k", "type": "nominal", "scale": {"domain": ["Age", "DM", "CD3", "IL6", "Comb"], "range": ["#3E5BA9", "#35B34A", "#D3CB92", "#77308F", "#F3262B"]}, "legend": {"title": null, "legendX": 304, "legendY": 635, "labelOffset": 17, "labelExpr": "datum.label == 'Age' ? 'Age:AUC=0.766(0.689-0.844)' : datum.label == 'DM' ? 'Diabetes mellitus:AUC=0.626(0.532-0.720)' : datum.label == 'CD3' ? 'CD3⁺:AUC=0.806(0.737-0.874)' : datum.label == 'IL6' ? 'IL-6:AUC=0.785(0.705-0.864)' : 'Combined predictor:AUC=0.887(0.837-0.937)'"}},
"order": {"value": null}}}
]
}]
}
]
}
]
}
